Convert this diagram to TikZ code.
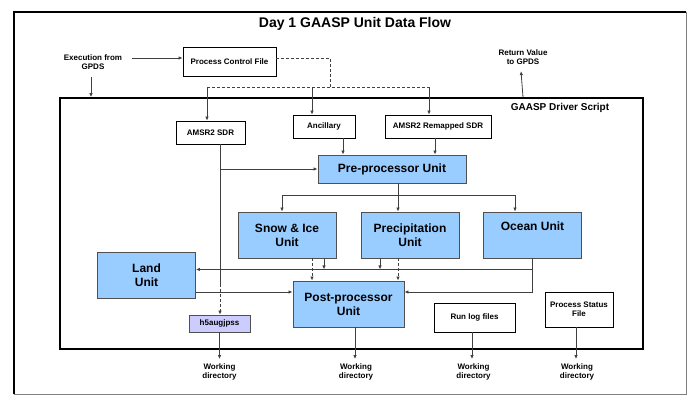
\documentclass[tikz,border=0pt]{standalone}
\usepackage{fontspec}
\setmainfont{Liberation Sans}
\usetikzlibrary{positioning,arrows.meta,calc}
\definecolor{unitBlue}{RGB}{153,204,255}
\definecolor{unitLilac}{RGB}{204,204,255}
\definecolor{lineGray}{RGB}{64,64,64}
\definecolor{edgeGray}{RGB}{80,80,80}
\definecolor{frameGray}{RGB}{128,128,128}
\tikzset{
  filebox/.style={rectangle,draw=black,fill=white,line width=0.8pt,align=center,
    minimum width=#1,minimum height=23pt,inner sep=1pt,
    font=\fontsize{8}{9}\selectfont\bfseries},
  filebox/.default=62pt,
  unitbox/.style={rectangle,draw=edgeGray,fill=unitBlue,line width=0.9pt,align=center,
    minimum width=98pt,minimum height=46pt,inner sep=1pt,
    font=\fontsize{12}{14}\selectfont\bfseries},
  arrow/.style={-{Latex[length=4pt,width=3.5pt]},draw=lineGray,line width=0.8pt},
  wire/.style={draw=lineGray,line width=0.8pt},
  dashlink/.style={draw=lineGray,line width=0.8pt,dash pattern=on 3pt off 2pt},
  note/.style={font=\fontsize{8}{9}\selectfont\bfseries,align=center,inner sep=0pt}
}

\begin{document}
\begin{tikzpicture}[x=1pt,y=-1pt]
  \useasboundingbox (0,0) rectangle (687,395);
  \fill[white] (0,0) rectangle (687,395);
  % outer frame
  \draw[line width=2pt] (14,394) -- (14,12) -- (686,12);
  \draw[frameGray,line width=0.8pt] (686,12) -- (686,394) -- (14,394);

  \node[font=\fontsize{14}{16}\selectfont\bfseries] (title) at (355,24) {Day 1 GAASP Unit Data Flow};

  % outside the driver
  \node[note] (exec) at (93,62.5) {Execution from\\GPDS};
  \node[filebox=93pt, minimum height=29pt] (pcf) at (229.5,61.5) {Process Control File};
  \node[note] (ret) at (523,57.5) {Return Value\\to GPDS};

  \node[draw, line width=1.6pt, minimum width=583pt, minimum height=251pt] (driver) at (351.5,223.5) {};
  \node[font=\fontsize{10}{12}\selectfont\bfseries] (dname) at (560,108) {GAASP Driver Script};

  % inputs
  \node[filebox=69pt] (sdr) at (210.5,132.5) {AMSR2 SDR};
  \node[filebox=62pt] (anc) at (324,126.5) {Ancillary};
  \node[filebox=106pt] (rem) at (438,126.5) {AMSR2 Remapped SDR};

  % units
  \node[unitbox, minimum width=148pt, minimum height=28pt] (pre) at (392,169) {Pre-processor Unit};
  \node[unitbox] (snow) at (287,235) {Snow \& Ice\\Unit};
  \node[unitbox] (precip) at (410,235) {Precipitation\\Unit};
  \node[unitbox] (ocean) at (532.5,235) {Ocean Unit\\\strut};
  \node[unitbox] (land) at (146.5,275) {Land\\Unit};
  \node[unitbox, minimum width=111pt] (post) at (348.5,304) {Post-processor\\Unit};

  % outputs
  \node[filebox=61pt, minimum height=17pt, draw=edgeGray, fill=unitLilac] (h5) at (219.5,323.5) {h5augjpss};
  \node[filebox=81pt, minimum height=29pt] (run) at (474.5,317.5) {Run log files};
  \node[filebox=68pt, minimum height=35pt] (status) at (579,309.5) {Process Status\\File};

  \node[note] (wd1) at (219.5,371.5) {Working\\directory};
  \node[note] (wd2) at (356,371.5) {Working\\directory};
  \node[note] (wd3) at (473.5,371.5) {Working\\directory};
  \node[note] (wd4) at (577,371.5) {Working\\directory};

  % helper points
  \coordinate (execDown) at ([xshift=-2pt]exec.south);
  \coordinate (pctl) at (330,87);
  \coordinate (sdrIn) at ([xshift=-3.5pt]sdr.north);
  \coordinate (ancIn) at ([xshift=-12pt]anc.north);
  \coordinate (remIn) at ([xshift=-9pt]rem.north);
  \coordinate (ancOut) at ([xshift=19pt]anc.south);
  \coordinate (remOut) at ([xshift=-3pt]rem.south);
  \coordinate (sdrOut) at ([xshift=9.5pt]sdr.south);
  \coordinate (preOut) at ([xshift=6pt]pre.south);
  \coordinate (fork) at ($(preOut)+(0,12)$);
  \coordinate (snowIn) at ([xshift=-5pt]snow.north);
  \coordinate (precipIn) at ([xshift=-12pt]precip.north);
  \coordinate (oceanIn) at ([xshift=-17.5pt]ocean.north);
  \coordinate (bus) at ($(ocean.south)+(0,11)$);
  \coordinate (snowA) at ([xshift=25pt]snow.south);
  \coordinate (snowB) at ([xshift=37pt]snow.south);
  \coordinate (precipA) at ([xshift=-30pt]precip.south);
  \coordinate (precipB) at ([xshift=-12pt]precip.south);
  \coordinate (landOut) at ([yshift=-17pt]land.east);
  \coordinate (postIn) at ([yshift=12pt]post.east);
  \coordinate (postOut) at ([xshift=6.5pt]post.south);

  % control flow
  \draw[arrow] ([shift={(10,-4.5)}]exec.east) coordinate (e0) -- (e0 -| pcf.west);
  \draw[arrow] ([shift={(0,7)}]execDown) -- (execDown |- driver.north);
  \draw[arrow] (ret.south |- driver.north) -- ([shift={(-2,6)}]ret.south);
  \draw[dashlink] ([yshift=3.5pt]pcf.east) -| (pctl);
  \draw[dashlink] (sdrIn |- pctl) -- (remIn |- pctl);
  \draw[arrow] (sdrIn |- pctl) -- (sdrIn);
  \draw[arrow] (ancIn |- pctl) -- (ancIn);
  \draw[arrow] (remIn |- pctl) -- (remIn);

  % data flow
  \draw[arrow] (ancOut) -- (ancOut |- pre.north);
  \draw[arrow] (remOut) -- (remOut |- pre.north);
  \draw[wire] (sdrOut) -- ($(sdrOut |- landOut)+(0,-8)$) coordinate (sdrMid);
  \draw[dashlink, arrow] (sdrMid) -- (sdrMid |- h5.north);
  \draw[arrow] (sdrOut |- pre.west) -- (pre.west);

  \draw[wire] (preOut) -- (fork);
  \draw[arrow] (fork) -| (snowIn);
  \draw[arrow] (fork) -| (oceanIn);
  \draw[arrow] (preOut) -- (precipIn);

  \draw[arrow] (ocean.south) |- (postIn);
  \draw[arrow] (bus) -- (bus -| land.east);
  \draw[arrow] (snowB) -- (snowB |- bus);
  \draw[arrow] (precipA) -- (precipA |- bus);
  \draw[dashlink, arrow] (snowA) -- (snowA |- post.north);
  \draw[dashlink, arrow] (precipB) -- (precipB |- post.north);
  \draw[arrow] (landOut) -- (landOut -| post.west);

  % to working directory
  \draw[arrow] (h5.south) -- ([yshift=4pt]wd1.north);
  \draw[arrow] (postOut) -- ([yshift=4pt]postOut |- wd2.north);
  \draw[arrow] ([xshift=-2.5pt]run.south) -- ([shift={(-2.5,-4)}]run.south |- wd3.north);
  \draw[arrow] ([xshift=-3pt]status.south) -- ([shift={(-3,-4)}]status.south |- wd4.north);
\end{tikzpicture}
\end{document}
